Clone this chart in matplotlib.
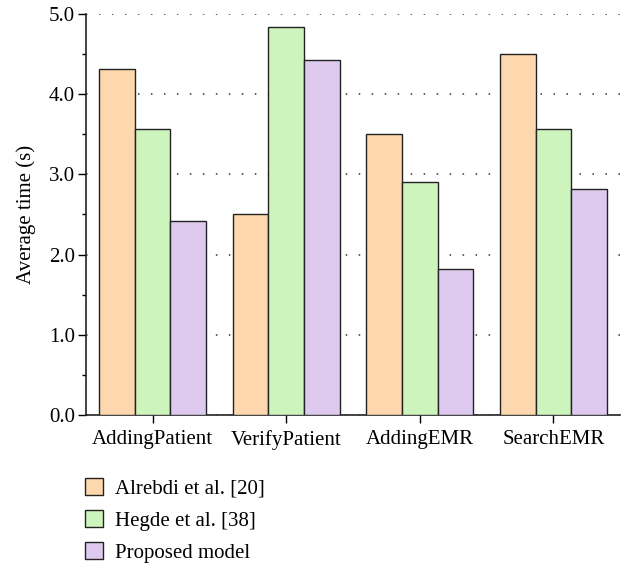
import numpy as np
import matplotlib
matplotlib.use("Agg")
import matplotlib.pyplot as plt
from matplotlib.ticker import MultipleLocator

categories = ["AddingPatient", "VerifyPatient", "AddingEMR", "SearchEMR"]
series_names = ["Alrebdi et al. [20]", "Hegde et al. [38]", "Proposed model"]
alrebdi = [4.31, 2.50, 3.50, 4.50]
hegde = [3.57, 4.84, 2.90, 3.57]
proposed = [2.42, 4.42, 1.82, 2.82]
colors = ["#FDD8AE", "#CEF4BE", "#DFCAEF"]

plt.rcParams["font.family"] = ["Liberation Serif", "DejaVu Serif"]
plt.rcParams["font.size"] = 15

fig = plt.figure(figsize=(6.27, 5.65), dpi=100)
ax = fig.add_axes([0.137, 0.2655, 0.852, 0.71])

x = np.arange(len(categories))
w = 0.266
for i, (vals, name) in enumerate(zip([alrebdi, hegde, proposed], series_names)):
    ax.bar(x + (i - 1) * w, vals, width=w, color=colors[i], edgecolor="#222222",
           linewidth=1.0, label=name, zorder=3)

ax.set_xlim(-0.5, 3.5)
ax.set_ylim(0, 5.0)
ax.set_xticks(x)
ax.set_xticklabels(categories)
ax.yaxis.set_major_locator(MultipleLocator(1.0))
ax.yaxis.set_minor_locator(MultipleLocator(0.5))
ax.yaxis.set_major_formatter(matplotlib.ticker.FormatStrFormatter("%.1f"))
ax.set_ylabel("Average time (s)", labelpad=9)

ax.grid(True, axis="y", which="major", color="#333333", linestyle=(0, (1, 7.5)),
        linewidth=1.1, zorder=0)
for s in ["top", "right"]:
    ax.spines[s].set_visible(False)
for s in ["left", "bottom"]:
    ax.spines[s].set_linewidth(1.2)
    ax.spines[s].set_color("#222222")
ax.tick_params(axis="y", which="major", direction="out", length=6, width=1.0, pad=2)
ax.tick_params(axis="y", which="minor", direction="out", length=3, width=1.0)
ax.tick_params(axis="x", which="major", direction="out", length=6, width=1.0, pad=5)

fig.legend(loc="upper left", bbox_to_anchor=(0.1356, 0.154), frameon=False,
           handlelength=0.87, handleheight=0.87, labelspacing=0.55,
           handletextpad=0.55, borderaxespad=0, borderpad=0)

fig.savefig("out.png", dpi=100)
